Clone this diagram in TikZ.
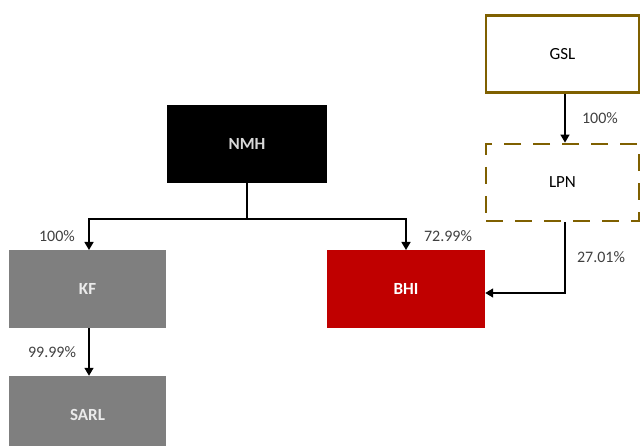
\documentclass[tikz,border=0pt]{standalone}
\usepackage{fontspec}
\setmainfont{Carlito}
\usetikzlibrary{arrows.meta}
\definecolor{gold}{HTML}{7F6000}
\definecolor{bred}{HTML}{C00000}
\definecolor{kgray}{HTML}{7F7F7F}
\definecolor{lbl}{HTML}{404040}
\begin{document}
\begin{tikzpicture}[x=1pt,y=1pt,
  box/.style={rectangle, minimum width=#1, inner sep=0pt},
  outlinebox/.style={box=153pt, minimum height=77pt, draw=gold, font=\fontsize{17}{20}\selectfont},
  filledbox/.style={minimum height=78pt, draw=none, font=\fontsize{17}{20}\bfseries},
  conn/.style={line width=1.4pt, -{Triangle[width=9pt,length=8pt]}},
  pct/.style={font=\fontsize{16}{19}\selectfont, text=lbl, inner sep=0pt}]
\useasboundingbox (0,0) rectangle (642,-446);
\begin{scope}
\clip (0,0) rectangle (642,-446);
\node[outlinebox, line width=2.4pt] (gsl) at (562.5,-54) {GSL};
\node[outlinebox, line width=2.8pt, dash pattern=on 17pt off 12pt] (lpn) at (562.5,-182.5) {LPN};
\node[box=160pt, filledbox, fill=black, text=white!85!black] (nmh) at (247,-144) {NMH};
\node[box=158pt, filledbox, fill=bred, text=white] (bhi) at (406,-289) {BHI};
\node[box=157pt, filledbox, fill=kgray, text=white!92!black] (kf) at (87.5,-289) {KF};
\node[box=157pt, filledbox, fill=kgray, text=white!92!black] (sarl) at (87.5,-415) {SARL};
\end{scope}
\coordinate (j) at (247,-219);
\coordinate (kft) at (89,-250);
\coordinate (bht) at (406,-250);
\draw[line width=1.4pt] (nmh.south) -- (j);
\draw[conn] (j) -| (kft);
\draw[conn] (j) -| (bht);
\draw[conn] (kf.south -| kft) -- (sarl.north -| kft);
\draw[conn] (gsl.south -| 565,0) -- (lpn.north -| 565,0);
\draw[conn] (lpn.south -| 565,0) |- (bhi.east |- 0,-293);
\node[pct] (p1) at (57,-236) {100\%};
\node[pct] (p2) at (448,-236) {72.99\%};
\node[pct] (p3) at (600,-118) {100\%};
\node[pct] (p4) at (601,-257) {27.01\%};
\node[pct] (p5) at (52,-352) {99.99\%};
\end{tikzpicture}
\end{document}
